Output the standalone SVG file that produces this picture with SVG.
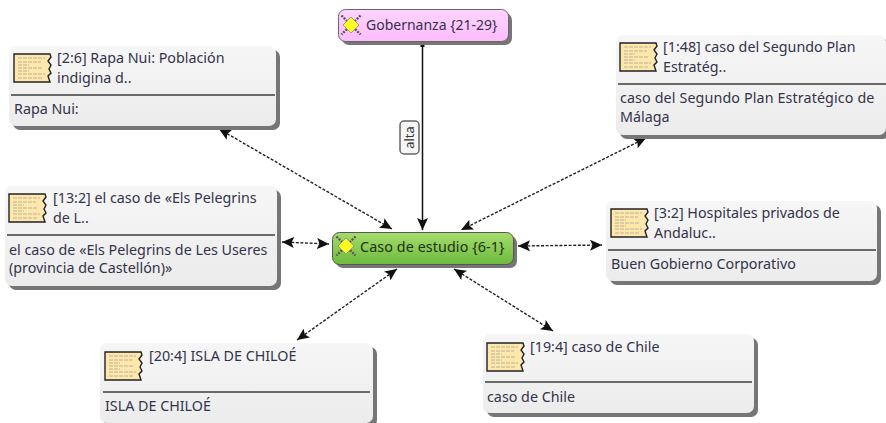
<svg xmlns="http://www.w3.org/2000/svg" width="886" height="423" viewBox="0 0 886 423">
<style>
text{font-family:"Noto Sans","Open Sans","Liberation Sans",sans-serif;font-size:14.3px;fill:#33334a}
.shadow{fill:#767676}
.card{fill:url(#cardFill)}
.div{stroke:#6a6a6a;stroke-width:2}
.dash{stroke:#222;stroke-width:1.4;stroke-dasharray:3 1.600;fill:none;marker-start:url(#headStart);marker-end:url(#head)}
.solid{stroke:#111;stroke-width:1.5;fill:none;marker-end:url(#head)}
.page{fill:#fde7ac;stroke:#222;stroke-width:1.4}
.lines{stroke:#aaa690;stroke-width:.8;stroke-dasharray:4 1}
.gem{fill:#ffff22;stroke:#888;stroke-width:.8}
.gemx{stroke:#555;stroke-width:2.400;stroke-dasharray:2 1.200;fill:none}
</style>
<defs>
<linearGradient id="cardFill" x1="0" y1="0" x2="0" y2="1"><stop offset="0" stop-color="#f6f6f6"/><stop offset="1" stop-color="#ececec"/></linearGradient>
<linearGradient id="greenFill" x1="0" y1="0" x2="0" y2="1"><stop offset="0" stop-color="#a6dc6c"/><stop offset="1" stop-color="#6cba3e"/></linearGradient>
<linearGradient id="pinkFill" x1="0" y1="0" x2="0" y2="1"><stop offset="0" stop-color="#ffd4ff"/><stop offset="1" stop-color="#fcbcfc"/></linearGradient>
<marker id="head" markerUnits="userSpaceOnUse" markerWidth="13" markerHeight="11" refX="12" refY="5.500" orient="auto"><path d="M0 0L12 5.500L0 11L2.500 5.500Z" fill="#111"/></marker>
<marker id="headStart" markerUnits="userSpaceOnUse" markerWidth="13" markerHeight="11" refX="1" refY="5.500" orient="auto"><path d="M13 0L1 5.500L13 11L10.500 5.500Z" fill="#111"/></marker>
<g id="doc"><path class="page" d="M0 0H36L37 3L34 7L37 11L35 15L37 19L34 22L36 28H0Z"/><path class="lines" d="M4 4H31M4 8H27M4 11H15M4 14H29M4 17H15M4 20H31M4 24H29"/></g>
<g id="gemIcon"><path class="gemx" d="M-9.500 -9.500L9.500 9.500M9.500 -9.500L-9.500 9.500"/><path class="gem" d="M0 -8L8 0L0 8L-8 0Z"/></g>
</defs>
<g id="connectors">
<path class="dash" d="M219 129L392 229"/>
<path class="dash" d="M646 138L461 230"/>
<path class="dash" d="M282 242L329 244"/>
<path class="dash" d="M518 246L602 245"/>
<path class="dash" d="M397 269L297 340"/>
<path class="dash" d="M454 269L553 331"/>
<path class="solid" d="M422.500 45V230"/>
<rect x="420.500" y="43" width="4" height="4" fill="#111"/>
<g id="edge-label"><rect x="400" y="121" width="19" height="33" rx="4" fill="#f6f6f6" stroke="#666" stroke-width="1.500"/><text transform="translate(414 137.500) rotate(-90)" text-anchor="middle" style="font-size:13px;fill:#333">alta</text></g>
</g>
<g id="n-gobernanza"><rect class="shadow" x="342" y="13" width="170" height="32" rx="7"/><rect x="338.500" y="9.500" width="170" height="32" rx="7" fill="url(#pinkFill)" stroke="#666"/><use href="#gemIcon" x="351" y="25"/><text x="366" y="30" style="font-size:14px">Gobernanza {21-29}</text></g>
<g id="n-caso"><rect class="shadow" x="336" y="236" width="181" height="32" rx="7"/><rect x="332.500" y="232.500" width="181" height="32" rx="7" fill="url(#greenFill)" stroke="#555"/><use href="#gemIcon" x="346" y="246"/><text x="360" y="252" style="fill:#1e3010;letter-spacing:.1px">Caso de estudio {6-1}</text></g>
<g id="n-2-6"><rect class="shadow" x="13" y="50" width="267" height="80" rx="7"/><rect class="card" x="9" y="46" width="267" height="80" rx="7"/><use href="#doc" x="14" y="54"/><path class="div" d="M11 95H275"/><text x="57" y="63">[2:6] Rapa Nui: Población</text><text x="57" y="83">indigina d..</text><text x="14" y="114">Rapa Nui:</text></g>
<g id="n-1-48"><rect class="shadow" x="620" y="39" width="270" height="100" rx="7"/><rect class="card" x="616" y="35" width="270" height="100" rx="7"/><use href="#doc" x="620" y="43"/><path class="div" d="M618 84H886"/><text x="663" y="52">[1:48] caso del Segundo Plan</text><text x="663" y="72">Estratég..</text><text x="620" y="103" style="letter-spacing:.12px">caso del Segundo Plan Estratégico de</text><text x="620" y="122">Málaga</text></g>
<g id="n-13-2"><rect class="shadow" x="9" y="190" width="272" height="100" rx="7"/><rect class="card" x="5" y="186" width="272" height="100" rx="7"/><use href="#doc" x="9" y="194"/><path class="div" d="M7 235H275"/><text x="53" y="203">[13:2] el caso de «Els Pelegrins</text><text x="53" y="223">de L..</text><text x="9" y="255">el caso de «Els Pelegrins de Les Useres</text><text x="9" y="273">(provincia de Castellón)»</text></g>
<g id="n-3-2"><rect class="shadow" x="610" y="205" width="271" height="80" rx="7"/><rect class="card" x="606" y="201" width="271" height="80" rx="7"/><use href="#doc" x="611" y="209"/><path class="div" d="M608 250H876"/><text x="654" y="218">[3:2] Hospitales privados de</text><text x="654" y="238">Andaluc..</text><text x="611" y="269">Buen Gobierno Corporativo</text></g>
<g id="n-20-4"><rect class="shadow" x="104" y="347" width="273" height="80" rx="7"/><rect class="card" x="100" y="343" width="273" height="80" rx="7"/><use href="#doc" x="105" y="352"/><path class="div" d="M103 392H370"/><text x="149" y="361">[20:4] ISLA DE CHILOÉ</text><text x="105" y="411">ISLA DE CHILOÉ</text></g>
<g id="n-19-4"><rect class="shadow" x="487" y="338" width="271" height="79" rx="7"/><rect class="card" x="483" y="334" width="271" height="79" rx="7"/><use href="#doc" x="487" y="343"/><path class="div" d="M485 382H752"/><text x="530" y="352">[19:4] caso de Chile</text><text x="487" y="402">caso de Chile</text></g>
</svg>
